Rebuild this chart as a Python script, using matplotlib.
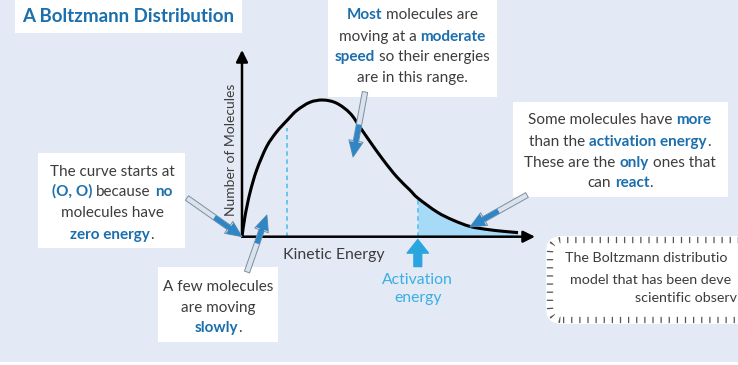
import matplotlib.pyplot as plt
import numpy as np
from matplotlib.patches import Rectangle, FancyBboxPatch, FancyArrowPatch, PathPatch
from matplotlib.path import Path
from matplotlib.transforms import IdentityTransform

# curve (arbitrary units)
energy = [0, 0.1, 0.27, 0.5, 0.84, 1.18, 1.55, 1.87, 2.32, 2.77, 3.23, 3.69,
          4.03, 4.37, 4.82, 5.28, 5.73, 6.0, 6.66, 7.2, 7.78, 8.36, 8.91, 9.42]
molecules = [0, 1.07, 2.34, 3.57, 4.82, 5.61, 6.25, 6.76, 7.2, 7.32, 7.15, 6.61,
             5.86, 5.09, 4.11, 3.21, 2.5, 2.07, 1.32, 0.89, 0.55, 0.39, 0.29, 0.22]
activation = 6.0
slow_mark = 1.55

W, H = 738, 365
BG = '#e4eaf5'
BLUE = '#1b6fad'
LIGHT = '#3aaee2'
DARK = '#3c3c3c'
FONT = 'Lato'
TXT = 11

plt.rcParams['font.family'] = [FONT, 'DejaVu Sans']

fig = plt.figure(figsize=(W / 100, H / 100), dpi=100)
fig.patch.set_facecolor(BG)
ident = IdentityTransform()


def box(x0, y0, x1, y1):
    # white box given in image pixels (top-left origin)
    fig.add_artist(Rectangle((x0, H - y1), x1 - x0, y1 - y0, transform=ident,
                             fc='white', ec='none', zorder=1))


renderer = fig.canvas.get_renderer()


def advance(s, size, weight):
    # width of s including side bearings, measured between two bars
    a = fig.text(0, 0, '|' + s + '|', fontsize=size, fontweight=weight, transform=ident)
    b = fig.text(0, 0, '||', fontsize=size, fontweight=weight, transform=ident)
    w = a.get_window_extent(renderer).width - b.get_window_extent(renderer).width
    a.remove()
    b.remove()
    return w


def rich_line(cx, cy, segs, size=TXT):
    # segs: list of (text, bold); a space goes between pieces unless punctuation
    space = advance(' ', size, 'normal')
    widths = []
    texts = []
    for s, bold in segs:
        weight = 'bold' if bold else 'normal'
        widths.append(advance(s, size, weight))
        texts.append(fig.text(0, 0, s, fontsize=size, transform=ident,
                              color=BLUE if bold else DARK, fontweight=weight,
                              va='baseline', ha='left', zorder=5))
    gaps = [0] + [0 if segs[i][0][0] in '.,)' else space for i in range(1, len(segs))]
    x = cx - (sum(widths) + sum(gaps)) / 2
    for t, w, g in zip(texts, widths, gaps):
        x += g
        t.set_position((x, H - cy - 4))
        x += w


# title
box(15, 0, 242, 33)
fig.text(22, H - 17, 'A Boltzmann Distribution', transform=ident, fontsize=13.5,
         fontweight='bold', color=BLUE, va='center', ha='left', zorder=5)

# plot area
ax = fig.add_axes([242 / W, (H - 236.7) / H, (535 - 242) / W, (236.7 - 50) / H])
ax.set_xlim(0, 10)
ax.set_ylim(0, 10)
ax.axis('off')
ax.set_zorder(3)

e = np.array(energy)
m = np.array(molecules)
hot = e >= activation
ax.fill_between(e[hot], m[hot], color='#a6daf6', lw=0, zorder=1)

# smooth curve through the read points (Catmull-Rom -> cubic Bezier)
pts = np.column_stack([e, m])
verts = [pts[0]]
codes = [Path.MOVETO]
n = len(pts)
for i in range(n - 1):
    p0 = pts[max(i - 1, 0)]
    p3 = pts[min(i + 2, n - 1)]
    verts += [pts[i] + (pts[i + 1] - p0) / 6, pts[i + 1] - (p3 - pts[i]) / 6, pts[i + 1]]
    codes += [Path.CURVE4] * 3
ax.add_patch(PathPatch(Path(verts, codes), fill=False, ec='black', lw=2.2, zorder=3))

ax.plot([activation, activation], [0, np.interp(activation, e, m)], color='#5ec3ef',
        ls=(0, (2.5, 2)), lw=1.3, zorder=2)
ax.plot([slow_mark, slow_mark], [0, 0.93 * np.interp(slow_mark, e, m)], color='#5ec3ef',
        ls=(0, (2.5, 2)), lw=1.3, zorder=2)

axis_arrow = dict(arrowstyle='-|>,head_length=0.5,head_width=0.25', lw=1.8, color='black',
                  mutation_scale=14, shrinkA=0, shrinkB=0)
ax.annotate('', xy=(10, 0), xytext=(0, 0), arrowprops=axis_arrow, annotation_clip=False)
ax.annotate('', xy=(0, 10), xytext=(0, 0), arrowprops=axis_arrow, annotation_clip=False)

ax.text(3.14, -1.0, 'Kinetic Energy', fontsize=11.4, color=DARK, ha='center', va='center')
ax.text(-0.36, 4.64, 'Number of Molecules', fontsize=10, color=DARK, rotation=90,
        ha='center', va='center')

ax.annotate('', xy=(activation, -0.15), xytext=(activation, -1.6),
            arrowprops=dict(arrowstyle='simple,head_length=0.7,head_width=1.1,tail_width=0.4',
                            color='#2aa5e0', mutation_scale=14, shrinkA=0, shrinkB=0),
            annotation_clip=False)
ax.text(activation, -2.3, 'Activation', color=LIGHT, fontsize=11.3, ha='center', va='center')
ax.text(activation, -3.3, 'energy', color=LIGHT, fontsize=11.3, ha='center', va='center')

# callout boxes
box(38, 153, 185, 248)
rich_line(112, 172, [('The curve starts at', False)])
rich_line(112, 192, [('(O, O)', True), ('because', False), ('no', True)])
rich_line(112, 213, [('molecules have', False)])
rich_line(112, 235, [('zero energy', True), ('.', False)])

box(158, 267, 278, 342)
rich_line(218, 287, [('A few molecules', False)])
rich_line(218, 308, [('are moving', False)])
rich_line(218, 328, [('slowly', True), ('.', False)])

box(328, 0, 497, 97)
rich_line(412, 15, [('Most', True), ('molecules are', False)])
rich_line(412, 37, [('moving at a', False), ('moderate', True)])
rich_line(412, 57, [('speed', True), ('so their energies', False)])
rich_line(412, 78, [('are in this range.', False)])

box(513, 102, 728, 197)
rich_line(620, 120, [('Some molecules have', False), ('more', True)])
rich_line(620, 142, [('than the', False), ('activation energy', True), ('.', False)])
rich_line(620, 163, [('These are the', False), ('only', True), ('ones that', False)])
rich_line(620, 183, [('can', False), ('react', True), ('.', False)])


# pointer arrows: pale tail fading into a blue head
def pointer(tip, tail):
    tip_px = ax.transData.transform(tip)
    tail_px = np.array([tail[0], H - tail[1]])
    mid = tail_px + 0.5 * (tip_px - tail_px)
    style = 'simple,head_length=0.9,head_width=0.8,tail_width=0.3'
    fig.add_artist(FancyArrowPatch(tail_px, tip_px, transform=ident, arrowstyle=style,
                                   mutation_scale=13, fc='#d8e3ef', ec='#7f8d9c', lw=0.7,
                                   shrinkA=0, shrinkB=0, zorder=6))
    fig.add_artist(FancyArrowPatch(mid, tip_px, transform=ident, arrowstyle=style,
                                   mutation_scale=12, fc='#2f86c6', ec='none',
                                   shrinkA=0, shrinkB=0, zorder=7))


pointer((0, 0), (187, 198))
pointer((0.85, 1.16), (247, 272))
pointer((3.79, 4.27), (365, 92))
pointer((7.78, 0.52), (527, 195))

# partly visible note on the right
fig.add_artist(FancyBboxPatch((546, H - 324), 320, 88, transform=ident,
                              boxstyle='round,pad=0,rounding_size=16',
                              fc='white', ec='none', zorder=1))
tick = FancyBboxPatch((550, H - 320), 312, 80, transform=ident,
                      boxstyle='round,pad=0,rounding_size=13',
                      fill=False, ec='#555555', lw=4.5, ls=(0, (0.2, 1.1)), zorder=2)
tick.set_capstyle('butt')
fig.add_artist(tick)
fig.text(565, H - 262, 'The Boltzmann distributio', transform=ident, fontsize=10.3,
         color=DARK, ha='left', va='baseline', zorder=5)
fig.text(570, H - 284, 'model that has been deve', transform=ident, fontsize=10.3,
         color=DARK, ha='left', va='baseline', zorder=5)
fig.text(635, H - 302, 'scientific observ', transform=ident, fontsize=10.3,
         color=DARK, ha='left', va='baseline', zorder=5)

fig.add_artist(Rectangle((0, 0), W, 3, transform=ident, fc='white', ec='none'))

fig.savefig('out.png', dpi=100, facecolor=fig.get_facecolor())
